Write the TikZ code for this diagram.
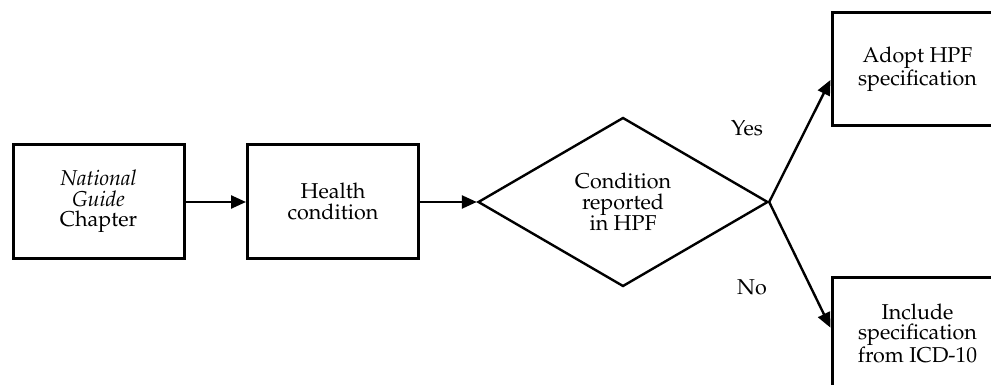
\documentclass[tikz,border=0pt]{standalone}
\usepackage[T1]{fontenc}
\usepackage{mathpazo}
\usetikzlibrary{arrows.meta,shapes.geometric,calc}
\tikzset{
  box/.style={draw, line width=3pt, minimum width=171pt, minimum height=113pt, inner sep=0pt, align=center, font=\fontsize{21.5}{20.5}\selectfont},
  decision/.style={draw, diamond, line width=2.4pt, minimum width=290pt, minimum height=169pt, inner sep=0pt, align=center, font=\fontsize{21.5}{20.5}\selectfont},
  conn/.style={line width=2.4pt, -{Triangle[length=15pt,width=13pt]}},
  lbl/.style={font=\fontsize{21.5}{20.5}\selectfont, inner sep=0pt}
}
\begin{document}
\begin{tikzpicture}[x=1pt,y=-1pt]
\useasboundingbox (0,0) rectangle (991,385);
\clip (0,0) rectangle (991,385);
\node[box] (chap) at (98.5,201.5) {\textit{National}\\\textit{Guide}\\Chapter};
\node[box] (health) at (333,201.5) {Health\\condition};
\node[decision] (dec) at (623,202) {Condition\\reported\\in HPF};
\node[box] (adopt) at (917.5,69.5) {Adopt HPF\\specification};
\node[box] (incl) at (917.5,333.5) {Include\\specification\\from ICD-10};
\node[lbl] (yes) at (747,128) {Yes};
\node[lbl] (no) at (752,287) {No};
\draw[conn] (chap.east |- dec.west) -- (health.west |- dec.west);
\draw[conn] (health.east |- dec.west) -- (dec.west);
\draw[conn] (dec.east) -- ($(adopt.north west)!0.59!(adopt.south west)$);
\draw[conn] (dec.east) -- ($(incl.north west)!0.45!(incl.south west)$);
\end{tikzpicture}
\end{document}
